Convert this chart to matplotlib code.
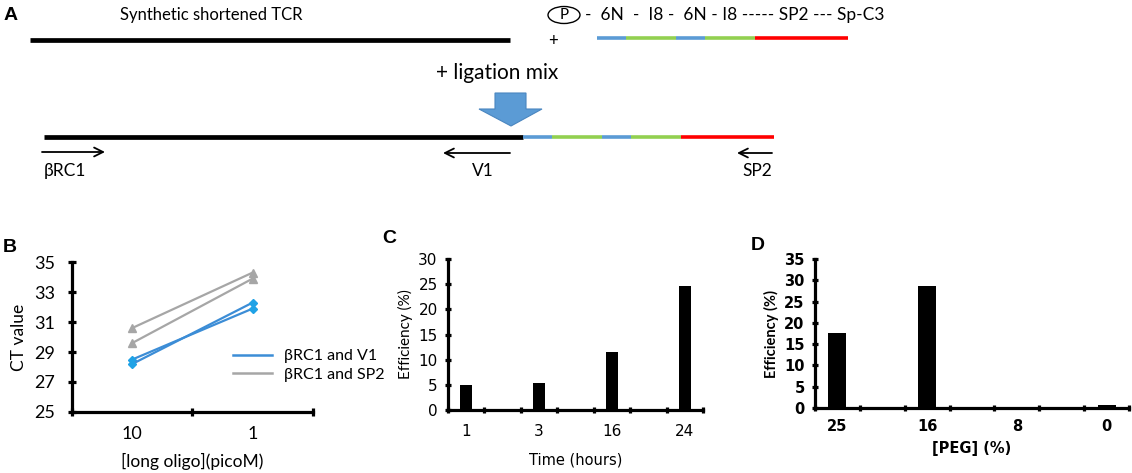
import numpy as np
import matplotlib.pyplot as plt
from matplotlib.patches import Ellipse, Polygon
from matplotlib.lines import Line2D

# ---- data ----
# panel B: CT values at two long-oligo concentrations
conc_labels = ['10', '1']
ct_v1 = [[28.5, 31.9], [28.2, 32.3]]      # beta RC1 and V1 (two replicates)
ct_sp2 = [[30.6, 34.3], [29.6, 33.9]]     # beta RC1 and SP2 (two replicates)

# panel C: efficiency vs ligation time
time_labels = ['1', '3', '16', '24']
time_eff = [5.0, 5.3, 11.6, 24.7]

# panel D: efficiency vs PEG concentration
peg_labels = ['25', '16', '8', '0']
peg_eff = [17.6, 28.7, 0.0, 0.7]

# panel A: oligo construct pieces (name, colour, length in px)
pieces = [('6N', '#5B9BD5', 29), ('I8', '#92D050', 50), ('6N', '#5B9BD5', 29),
          ('I8', '#92D050', 50), ('SP2', '#FF0000', 93)]

FONT = ['Lato', 'DejaVu Sans']
VERD = ['DejaVu Sans']

fig = plt.figure(figsize=(11.32, 4.73), dpi=100)

# ---- panel A: schematic drawn in pixel coordinates ----
ax0 = fig.add_axes([0, 0, 1, 1])
ax0.set_xlim(0, 1132)
ax0.set_ylim(473, 0)
ax0.axis('off')

ax0.text(4, 15, 'A', fontsize=14, fontweight='bold', family=['Liberation Sans'], va='center')
ax0.text(211, 15, 'Synthetic shortened TCR', fontsize=12, family=FONT, ha='center', va='center')
ax0.plot([30, 510], [40, 40], color='black', lw=3.4, solid_capstyle='butt')

ax0.add_patch(Ellipse((564, 15), 32, 17, fill=False, ec='black', lw=1.0))
ax0.text(564, 15, 'P', fontsize=11, family=FONT, ha='center', va='center')
ax0.text(585, 15, '-  6N  -  I8 -  6N - I8 ----- SP2 --- Sp-C3', fontsize=12.5,
         family=FONT, ha='left', va='center')
ax0.text(553, 41, '+', fontsize=12, family=FONT, ha='center', va='center')


def draw_construct(x0, y):
    x = x0
    for name, col, length in pieces:
        ax0.plot([x, x + length], [y, y], color=col, lw=2.6, solid_capstyle='butt')
        x += length
    return x


draw_construct(597, 38)

ax0.text(497, 73, '+ ligation mix', fontsize=15, family=FONT, ha='center', va='center')
ax0.add_patch(Polygon([(495, 93), (526, 93), (526, 109), (542, 109), (511, 126),
                       (479, 109), (495, 109)], closed=True, fc='#5B9BD5', ec='#4A86C0', lw=0.8))

ax0.plot([44, 523], [137, 137], color='black', lw=3.4, solid_capstyle='butt')
end = draw_construct(523, 137)

arrow = dict(arrowstyle='->', lw=1.3, color='black', mutation_scale=16, shrinkA=0, shrinkB=0)
ax0.annotate('', xy=(105, 152), xytext=(42, 152), arrowprops=arrow)
ax0.annotate('', xy=(443, 153), xytext=(510, 153), arrowprops=arrow)
ax0.annotate('', xy=(737, 153), xytext=(772, 153), arrowprops=arrow)
ax0.text(44, 171, 'βRC1', fontsize=12.5, family=FONT, ha='left', va='center')
ax0.text(483, 171, 'V1', fontsize=12.5, family=FONT, ha='center', va='center')
ax0.text(757, 171, 'SP2', fontsize=12.5, family=FONT, ha='center', va='center')

# panel letters
for letter, x, y in [('B', 3, 247), ('C', 382, 238), ('D', 751, 245)]:
    ax0.text(x, y, letter, fontsize=14, fontweight='bold', family=['Liberation Sans'], va='center')


def style_axes(ax, lw):
    for side in ['top', 'right']:
        ax.spines[side].set_visible(False)
    for side in ['left', 'bottom']:
        ax.spines[side].set_linewidth(lw)
    ax.patch.set_alpha(0)


# ---- panel B ----
axB = fig.add_axes([0.0636, 0.129, 0.2129, 0.317])
style_axes(axB, 2.3)
xb = np.arange(len(conc_labels)) + 0.5
for ys in ct_sp2:
    axB.plot(xb, ys, color='#A6A6A6', lw=1.6, marker='^', ms=6, mfc='#A6A6A6', mec='#A6A6A6')
for ys in ct_v1:
    axB.plot(xb, ys, color='#3C8DD6', lw=1.6, marker='D', ms=4.5, mfc='#1FA2E6', mec='#1FA2E6')
axB.set_xlim(0, len(conc_labels))
axB.set_ylim(25, 35)
axB.set_yticks(np.arange(25, 36, 2))
axB.set_xticks(xb)
axB.set_xticklabels(conc_labels)
axB.set_xticks(np.arange(len(conc_labels) + 1), minor=True)
axB.tick_params(axis='x', which='major', length=0, pad=10)
axB.tick_params(axis='x', which='minor', direction='inout', length=6, width=2.3)
axB.tick_params(axis='y', direction='inout', length=6, width=2.3, pad=9)
for lab in axB.get_xticklabels() + axB.get_yticklabels():
    lab.set_family(FONT)
    lab.set_fontsize(13)
axB.set_ylabel('CT value', fontsize=12.5, family=FONT, labelpad=5)
axB.set_xlabel('[long oligo](picoM)', fontsize=12.5, family=FONT, labelpad=8)
handles = [Line2D([], [], color='#3C8DD6', lw=1.8), Line2D([], [], color='#A6A6A6', lw=1.8)]
axB.legend(handles, ['βRC1 and V1', 'βRC1 and SP2'], loc='center left',
           bbox_to_anchor=(0.61, 0.31), frameon=False, handlelength=2.4,
           labelspacing=0.3, prop={'family': FONT, 'size': 11.5})

# ---- panel C ----
axC = fig.add_axes([0.3958, 0.1332, 0.2253, 0.319])
style_axes(axC, 2.3)
n_slots = 2 * len(time_labels) - 1
xc = np.arange(len(time_labels)) * 2
axC.bar(xc, time_eff, width=0.32, color='black')
axC.set_xlim(-0.5, n_slots - 0.5)
axC.set_ylim(0, 30)
axC.set_yticks(np.arange(0, 31, 5))
axC.set_xticks(xc)
axC.set_xticklabels(time_labels)
axC.set_xticks(np.arange(n_slots + 1) - 0.5, minor=True)
axC.tick_params(axis='x', which='major', length=0, pad=10)
axC.tick_params(axis='x', which='minor', direction='inout', length=5, width=2.3)
axC.tick_params(axis='y', direction='inout', length=5, width=2.3, pad=5)
for lab in axC.get_xticklabels() + axC.get_yticklabels():
    lab.set_family(VERD)
    lab.set_fontsize(11)
axC.set_ylabel('Efficiency (%)', fontsize=11, family=FONT, labelpad=4)
axC.set_xlabel('Time (hours)', fontsize=10.5, family=VERD, labelpad=10)

# ---- panel D ----
axD = fig.add_axes([0.72, 0.1374, 0.2774, 0.315])
style_axes(axD, 2.3)
n_slots = 2 * len(peg_labels) - 1
xd = np.arange(len(peg_labels)) * 2
axD.bar(xd, peg_eff, width=0.4, color='black')
axD.set_xlim(-0.5, n_slots - 0.5)
axD.set_ylim(0, 35)
axD.set_yticks(np.arange(0, 36, 5))
axD.set_xticks(xd)
axD.set_xticklabels(peg_labels)
axD.set_xticks(np.arange(n_slots + 1) - 0.5, minor=True)
axD.tick_params(axis='x', which='major', length=0, pad=8)
axD.tick_params(axis='x', which='minor', direction='inout', length=5, width=2.3)
axD.tick_params(axis='y', direction='inout', length=5, width=2.3, pad=5)
for lab in axD.get_xticklabels() + axD.get_yticklabels():
    lab.set_family(VERD)
    lab.set_fontsize(10.5)
    lab.set_fontweight('bold')
axD.set_ylabel('Efficiency (%)', fontsize=10.5, family=FONT, fontweight='bold', labelpad=4)
axD.set_xlabel('[PEG] (%)', fontsize=10.5, family=VERD, fontweight='bold', labelpad=5)

fig.savefig('out.png', dpi=100)
